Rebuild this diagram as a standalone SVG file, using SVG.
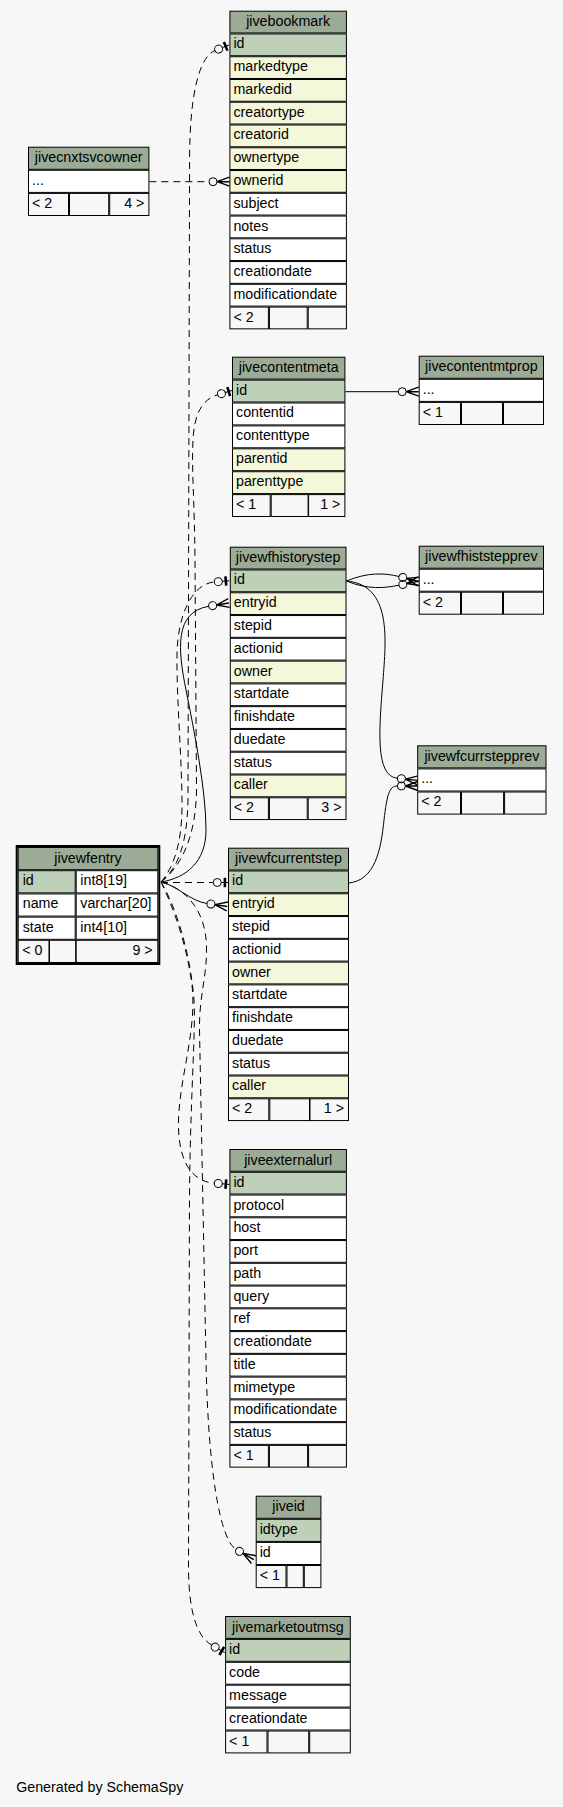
<svg xmlns="http://www.w3.org/2000/svg" width="563" height="1807" viewBox="0 0 563 1807">
<style>
.c{stroke:#000;stroke-width:1}
.hd{fill:#9bab96}
.pk{fill:#bed1b8}
.ix{fill:#f4f7da}
.w{fill:#ffffff}
.ft{fill:#f7f7f7}
text{font-family:"Liberation Sans",Arial,Helvetica,sans-serif;font-size:14.25px;fill:#000}
.m{text-anchor:middle}
.r{text-anchor:end}
.e{fill:none;stroke:#000;stroke-width:1}
.d{stroke-dasharray:7,5}
</style>
<defs>
<marker id="tee" markerUnits="userSpaceOnUse" orient="auto" refX="0" refY="0" markerWidth="24" markerHeight="24" viewBox="-2 -12 24 24" overflow="visible">
<circle cx="4" cy="0" r="4" fill="none" stroke="#000" stroke-width="1"/>
<path d="M8,0H15" stroke="#000" stroke-width="1" fill="none"/>
<rect x="10.3" y="-4.7" width="2.6" height="9.4" fill="#000"/>
</marker>
<marker id="crow" markerUnits="userSpaceOnUse" orient="auto" refX="0" refY="0" markerWidth="24" markerHeight="24" viewBox="-2 -12 24 24" overflow="visible">
<circle cx="4" cy="0" r="4" fill="none" stroke="#000" stroke-width="1"/>
<path d="M8,0L20.5,-4.5M8,0L20.5,0M8,0L20.5,4.5" stroke="#000" stroke-width="1.4" fill="none"/>
</marker>
</defs>
<rect x="0" y="0" width="563" height="1807" fill="#f7f7f7"/>

<g id="connectors">
<path class="e d" marker-end="url(#crow)" d="M149.4,181.7H209"/>
<path class="e d" marker-end="url(#tee)" d="M161,882C178,868 187,845 188,800L189.6,160C189.6,95 199,57 214.9,50.6"/>
<path class="e d" marker-end="url(#tee)" d="M161,882C182,866 196,835 196.5,790L195,560C194.5,500 191.5,470 193,440C194,418 200,400 217.6,394.8"/>
<path class="e" marker-end="url(#crow)" d="M345.4,391.7H398.2"/>
<path class="e d" marker-end="url(#tee)" d="M161,882C173,868 182,845 182,805C182,760 176.5,700 177,655C177.5,615 192,584 214.3,582"/>
<path class="e" marker-end="url(#crow)" d="M161,882C186,878 206,862 206,830C206,790 194,730 186,690C178,650 174,612 208.7,606.3"/>
<path class="e" marker-end="url(#crow)" d="M346.5,581C368,572 385,573 398.9,576.5"/>
<path class="e" marker-end="url(#crow)" d="M346.5,581C368,590 385,588 398.9,585.2"/>
<path class="e" marker-end="url(#crow)" d="M346.5,581C392,585 386,640 383,680C379,730 375,776 397.4,778.3"/>
<path class="e" marker-end="url(#crow)" d="M349,883C375,880 381,850 384,820C387,795 389,786 397.4,786"/>
<path class="e d" marker-end="url(#tee)" d="M161,882.5H213.3"/>
<path class="e" marker-end="url(#crow)" d="M161,882C178,886 190,901 207,903.5"/>
<path class="e d" marker-end="url(#tee)" d="M161,882C172,905 186,940 192,985C197,1030 180,1075 178.5,1120C177.5,1155 188,1181 214.3,1183.2"/>
<path class="e d" marker-end="url(#crow)" d="M161,882C184,888 205,908 206.5,945C207.5,975 199,995 199.5,1030L206,1360C208,1470 220,1540 236,1549.3"/>
<path class="e d" marker-end="url(#tee)" d="M161,882C175,905 190,950 194,1000C196,1030 190,1100 189.5,1200L188.5,1570C189,1610 196,1636 211.7,1645.1"/>
</g>

<g id="jivebookmark" transform="translate(229.4,10.7)">
<rect class="c hd" x="0.5" y="0.5" width="116.5" height="21.76"/><text class="m" x="58.75" y="15.5">jivebookmark</text>
<rect class="c pk" x="0.5" y="23.26" width="116.5" height="21.76"/><text x="4" y="37.76">id</text>
<rect class="c ix" x="0.5" y="46.02" width="116.5" height="21.76"/><text x="4" y="60.52">markedtype</text>
<rect class="c ix" x="0.5" y="68.78" width="116.5" height="21.76"/><text x="4" y="83.28">markedid</text>
<rect class="c ix" x="0.5" y="91.54" width="116.5" height="21.76"/><text x="4" y="106.04">creatortype</text>
<rect class="c ix" x="0.5" y="114.3" width="116.5" height="21.76"/><text x="4" y="128.8">creatorid</text>
<rect class="c ix" x="0.5" y="137.06" width="116.5" height="21.76"/><text x="4" y="151.56">ownertype</text>
<rect class="c ix" x="0.5" y="159.82" width="116.5" height="21.76"/><text x="4" y="174.32">ownerid</text>
<rect class="c w" x="0.5" y="182.58" width="116.5" height="21.76"/><text x="4" y="197.08">subject</text>
<rect class="c w" x="0.5" y="205.34" width="116.5" height="21.76"/><text x="4" y="219.84">notes</text>
<rect class="c w" x="0.5" y="228.1" width="116.5" height="21.76"/><text x="4" y="242.6">status</text>
<rect class="c w" x="0.5" y="250.86" width="116.5" height="21.76"/><text x="4" y="265.36">creationdate</text>
<rect class="c w" x="0.5" y="273.62" width="116.5" height="21.76"/><text x="4" y="288.12">modificationdate</text>
<rect class="c ft" x="0.5" y="296.38" width="38.5" height="21.76"/><rect class="c ft" x="40" y="296.38" width="37.8" height="21.76"/><rect class="c ft" x="78.8" y="296.38" width="38.2" height="21.76"/><text x="4" y="310.88">&lt; 2</text>
</g>

<g id="jivecnxtsvcowner" transform="translate(28,146.7)">
<rect class="c hd" x="0.5" y="0.5" width="120.4" height="22.1"/><text class="m" x="60.7" y="15.5">jivecnxtsvcowner</text>
<rect class="c w" x="0.5" y="23.6" width="120.4" height="22.1"/><text x="4" y="38.1">...</text>
<rect class="c ft" x="0.5" y="46.7" width="40" height="22.1"/><rect class="c ft" x="41.5" y="46.7" width="39.2" height="22.1"/><rect class="c ft" x="81.7" y="46.7" width="39.2" height="22.1"/><text x="4" y="61.2">&lt; 2</text><text class="r" x="116.4" y="61.2">4 &gt;</text>
</g>

<g id="jivecontentmeta" transform="translate(232,356.7)">
<rect class="c hd" x="0.5" y="0.5" width="112.4" height="21.9"/><text class="m" x="56.7" y="15.5">jivecontentmeta</text>
<rect class="c pk" x="0.5" y="23.4" width="112.4" height="21.9"/><text x="4" y="37.9">id</text>
<rect class="c w" x="0.5" y="46.3" width="112.4" height="21.9"/><text x="4" y="60.8">contentid</text>
<rect class="c w" x="0.5" y="69.2" width="112.4" height="21.9"/><text x="4" y="83.7">contenttype</text>
<rect class="c ix" x="0.5" y="92.1" width="112.4" height="21.9"/><text x="4" y="106.6">parentid</text>
<rect class="c ix" x="0.5" y="115" width="112.4" height="21.9"/><text x="4" y="129.5">parenttype</text>
<rect class="c ft" x="0.5" y="137.9" width="37.7" height="21.9"/><rect class="c ft" x="39.2" y="137.9" width="36.9" height="21.9"/><rect class="c ft" x="76.6" y="137.9" width="36.3" height="21.9"/><text x="4" y="152.4">&lt; 1</text><text class="r" x="108.4" y="152.4">1 &gt;</text>
</g>

<g id="jivecontentmtprop" transform="translate(418.7,355.7)">
<rect class="c hd" x="0.5" y="0.5" width="124.3" height="22.1"/><text class="m" x="62.65" y="15.5">jivecontentmtprop</text>
<rect class="c w" x="0.5" y="23.6" width="124.3" height="22.1"/><text x="4" y="38.1">...</text>
<rect class="c ft" x="0.5" y="46.7" width="41.3" height="22.1"/><rect class="c ft" x="42.8" y="46.7" width="41" height="22.1"/><rect class="c ft" x="84.8" y="46.7" width="40" height="22.1"/><text x="4" y="61.2">&lt; 1</text>
</g>

<g id="jivewfhistorystep" transform="translate(229.8,546.7)">
<rect class="c hd" x="0.5" y="0.5" width="115.7" height="21.78"/><text class="m" x="58.35" y="15.5">jivewfhistorystep</text>
<rect class="c pk" x="0.5" y="23.28" width="115.7" height="21.78"/><text x="4" y="37.78">id</text>
<rect class="c ix" x="0.5" y="46.06" width="115.7" height="21.78"/><text x="4" y="60.56">entryid</text>
<rect class="c w" x="0.5" y="68.84" width="115.7" height="21.78"/><text x="4" y="83.34">stepid</text>
<rect class="c w" x="0.5" y="91.62" width="115.7" height="21.78"/><text x="4" y="106.12">actionid</text>
<rect class="c ix" x="0.5" y="114.4" width="115.7" height="21.78"/><text x="4" y="128.9">owner</text>
<rect class="c w" x="0.5" y="137.18" width="115.7" height="21.78"/><text x="4" y="151.68">startdate</text>
<rect class="c w" x="0.5" y="159.96" width="115.7" height="21.78"/><text x="4" y="174.46">finishdate</text>
<rect class="c w" x="0.5" y="182.74" width="115.7" height="21.78"/><text x="4" y="197.24">duedate</text>
<rect class="c w" x="0.5" y="205.52" width="115.7" height="21.78"/><text x="4" y="220.02">status</text>
<rect class="c ix" x="0.5" y="228.3" width="115.7" height="21.78"/><text x="4" y="242.8">caller</text>
<rect class="c ft" x="0.5" y="251.08" width="38.1" height="21.78"/><rect class="c ft" x="39.6" y="251.08" width="37.8" height="21.78"/><rect class="c ft" x="78.4" y="251.08" width="37.8" height="21.78"/><text x="4" y="265.58">&lt; 2</text><text class="r" x="111.7" y="265.58">3 &gt;</text>
</g>

<g id="jivewfhiststepprev" transform="translate(418.7,545.7)">
<rect class="c hd" x="0.5" y="0.5" width="124.3" height="22"/><text class="m" x="62.65" y="15.5">jivewfhiststepprev</text>
<rect class="c w" x="0.5" y="23.5" width="124.3" height="22"/><text x="4" y="38">...</text>
<rect class="c ft" x="0.5" y="46.5" width="41.3" height="22"/><rect class="c ft" x="42.8" y="46.5" width="41" height="22"/><rect class="c ft" x="84.8" y="46.5" width="40" height="22"/><text x="4" y="61">&lt; 2</text>
</g>

<g id="jivewfcurrstepprev" transform="translate(417.2,745.3)">
<rect class="c hd" x="0.5" y="0.5" width="128.3" height="22.1"/><text class="m" x="64.65" y="15.5">jivewfcurrstepprev</text>
<rect class="c w" x="0.5" y="23.6" width="128.3" height="22.1"/><text x="4" y="38.1">...</text>
<rect class="c ft" x="0.5" y="46.7" width="42.8" height="22.1"/><rect class="c ft" x="44.3" y="46.7" width="42.1" height="22.1"/><rect class="c ft" x="87.4" y="46.7" width="41.4" height="22.1"/><text x="4" y="61.2">&lt; 2</text>
</g>

<g id="jivewfentry" transform="translate(15.7,845)">
<rect x="1" y="1" width="142.6" height="118" fill="none" stroke="#000" stroke-width="2"/>
<rect class="c hd" x="2.5" y="2.5" width="139.6" height="22.2"/><text class="m" x="72.3" y="17.5">jivewfentry</text>
<rect class="c pk" x="2.5" y="25.7" width="57" height="22.2"/><rect class="c w" x="60.5" y="25.7" width="81.6" height="22.2"/><text x="7" y="40.2">id</text><text x="64.6" y="40.2">int8[19]</text>
<rect class="c w" x="2.5" y="48.9" width="57" height="22.2"/><rect class="c w" x="60.5" y="48.9" width="81.6" height="22.2"/><text x="7" y="63.4">name</text><text x="64.6" y="63.4">varchar[20]</text>
<rect class="c w" x="2.5" y="72.1" width="57" height="22.2"/><rect class="c w" x="60.5" y="72.1" width="81.6" height="22.2"/><text x="7" y="86.6">state</text><text x="64.6" y="86.6">int4[10]</text>
<rect class="c ft" x="2.5" y="95.3" width="30.8" height="22.2"/><rect class="c ft" x="33.8" y="95.3" width="26.2" height="22.2"/><rect class="c ft" x="60.5" y="95.3" width="81.6" height="22.2"/><text x="6.5" y="109.8">&lt; 0</text><text class="r" x="137" y="109.8">9 &gt;</text>
</g>

<g id="jivewfcurrentstep" transform="translate(228,847.7)">
<rect class="c hd" x="0.5" y="0.5" width="120" height="21.78"/><text class="m" x="60.5" y="15.5">jivewfcurrentstep</text>
<rect class="c pk" x="0.5" y="23.28" width="120" height="21.78"/><text x="4" y="37.78">id</text>
<rect class="c ix" x="0.5" y="46.06" width="120" height="21.78"/><text x="4" y="60.56">entryid</text>
<rect class="c w" x="0.5" y="68.84" width="120" height="21.78"/><text x="4" y="83.34">stepid</text>
<rect class="c w" x="0.5" y="91.62" width="120" height="21.78"/><text x="4" y="106.12">actionid</text>
<rect class="c ix" x="0.5" y="114.4" width="120" height="21.78"/><text x="4" y="128.9">owner</text>
<rect class="c w" x="0.5" y="137.18" width="120" height="21.78"/><text x="4" y="151.68">startdate</text>
<rect class="c w" x="0.5" y="159.96" width="120" height="21.78"/><text x="4" y="174.46">finishdate</text>
<rect class="c w" x="0.5" y="182.74" width="120" height="21.78"/><text x="4" y="197.24">duedate</text>
<rect class="c w" x="0.5" y="205.52" width="120" height="21.78"/><text x="4" y="220.02">status</text>
<rect class="c ix" x="0.5" y="228.3" width="120" height="21.78"/><text x="4" y="242.8">caller</text>
<rect class="c ft" x="0.5" y="251.08" width="40.3" height="21.78"/><rect class="c ft" x="41.8" y="251.08" width="39.7" height="21.78"/><rect class="c ft" x="82" y="251.08" width="38.5" height="21.78"/><text x="4" y="265.58">&lt; 2</text><text class="r" x="116" y="265.58">1 &gt;</text>
</g>

<g id="jiveexternalurl" transform="translate(229.4,1149)">
<rect class="c hd" x="0.5" y="0.5" width="116.5" height="21.76"/><text class="m" x="58.75" y="15.5">jiveexternalurl</text>
<rect class="c pk" x="0.5" y="23.26" width="116.5" height="21.76"/><text x="4" y="37.76">id</text>
<rect class="c w" x="0.5" y="46.02" width="116.5" height="21.76"/><text x="4" y="60.52">protocol</text>
<rect class="c w" x="0.5" y="68.78" width="116.5" height="21.76"/><text x="4" y="83.28">host</text>
<rect class="c w" x="0.5" y="91.54" width="116.5" height="21.76"/><text x="4" y="106.04">port</text>
<rect class="c w" x="0.5" y="114.3" width="116.5" height="21.76"/><text x="4" y="128.8">path</text>
<rect class="c w" x="0.5" y="137.06" width="116.5" height="21.76"/><text x="4" y="151.56">query</text>
<rect class="c w" x="0.5" y="159.82" width="116.5" height="21.76"/><text x="4" y="174.32">ref</text>
<rect class="c w" x="0.5" y="182.58" width="116.5" height="21.76"/><text x="4" y="197.08">creationdate</text>
<rect class="c w" x="0.5" y="205.34" width="116.5" height="21.76"/><text x="4" y="219.84">title</text>
<rect class="c w" x="0.5" y="228.1" width="116.5" height="21.76"/><text x="4" y="242.6">mimetype</text>
<rect class="c w" x="0.5" y="250.86" width="116.5" height="21.76"/><text x="4" y="265.36">modificationdate</text>
<rect class="c w" x="0.5" y="273.62" width="116.5" height="21.76"/><text x="4" y="288.12">status</text>
<rect class="c ft" x="0.5" y="296.38" width="38.5" height="21.76"/><rect class="c ft" x="40" y="296.38" width="38.2" height="21.76"/><rect class="c ft" x="79.2" y="296.38" width="37.8" height="21.76"/><text x="4" y="310.88">&lt; 1</text>
</g>

<g id="jiveid" transform="translate(255.7,1495.7)">
<rect class="c hd" x="0.5" y="0.5" width="64.7" height="22.1"/><text class="m" x="32.85" y="15.5">jiveid</text>
<rect class="c pk" x="0.5" y="23.6" width="64.7" height="22.1"/><text x="4" y="38.1">idtype</text>
<rect class="c w" x="0.5" y="46.7" width="64.7" height="22.1"/><text x="4" y="61.2">id</text>
<rect class="c ft" x="0.5" y="69.8" width="29.8" height="22.1"/><rect class="c ft" x="31.3" y="69.8" width="16.3" height="22.1"/><rect class="c ft" x="48.6" y="69.8" width="16.6" height="22.1"/><text x="4" y="84.3">&lt; 1</text>
</g>

<g id="jivemarketoutmsg" transform="translate(225.1,1616)">
<rect class="c hd" x="0.5" y="0.5" width="124.7" height="21.9"/><text class="m" x="62.85" y="15.5">jivemarketoutmsg</text>
<rect class="c pk" x="0.5" y="23.4" width="124.7" height="21.9"/><text x="4" y="37.9">id</text>
<rect class="c w" x="0.5" y="46.3" width="124.7" height="21.9"/><text x="4" y="60.8">code</text>
<rect class="c w" x="0.5" y="69.2" width="124.7" height="21.9"/><text x="4" y="83.7">message</text>
<rect class="c w" x="0.5" y="92.1" width="124.7" height="21.9"/><text x="4" y="106.6">creationdate</text>
<rect class="c ft" x="0.5" y="115" width="41.4" height="21.9"/><rect class="c ft" x="42.9" y="115" width="40.7" height="21.9"/><rect class="c ft" x="84.6" y="115" width="40.6" height="21.9"/><text x="4" y="129.5">&lt; 1</text>
</g>

<text x="16.2" y="1792">Generated by SchemaSpy</text>
</svg>
